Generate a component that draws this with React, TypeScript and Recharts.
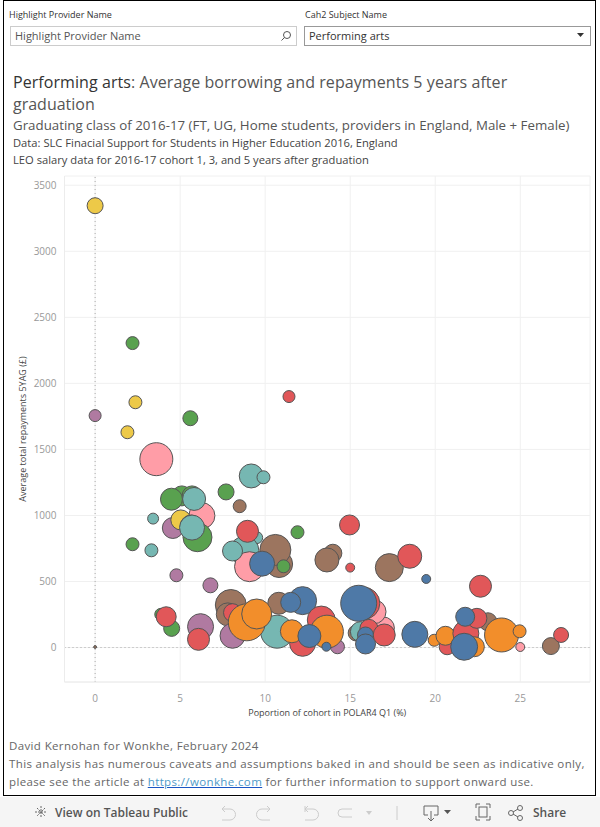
import React from 'react';
import { ScatterChart, Scatter, XAxis, YAxis, ZAxis, CartesianGrid, ReferenceLine, Cell } from 'recharts';

// One entry per provider, drawn in this order
const polarShare = [
  0, 2.2, 2.37, 0, 5.6, 11.4, 1.9, 3.6, 9.18, 9.9,
  7.7, 8.5, 5.1, 5.7, 4.49, 6.28, 3.41, 5.82, 4.57, 5.04,
  6.02, 5.65, 5.7, 2.2, 3.31, 4.78, 6.78, 9.5, 8.78, 9.08,
  8.08, 8.96, 10.82, 10.6, 9.82, 11.08, 11.9, 13.98, 13.63, 14.96,
  15, 17.3, 18.5, 19.47, 22.66, 3.86, 4.5, 4.18, 6.2, 6.08,
  7.98, 7.8, 8.08, 8.08, 10.8, 10.7, 8.92, 9.5, 12.2, 11.5,
  13.3, 12.2, 11.57, 14.1, 14.25, 13.63, 12.6, 13.6, 16.95, 16.4,
  15.8, 15.35, 15.6, 15.5, 16.1, 15.9, 15.9, 17, 18.8, 19.94,
  20.7, 20.6, 21.8, 23.1, 22.45, 21.76, 22.3, 21.7, 23.9, 24.96,
  25, 26.8, 27.4, 0,
];
const repayments = [
  3345, 2305, 1857, 1756, 1736, 1900, 1630, 1426, 1299, 1289,
  1178, 1070, 1148, 1148, 1123, 998, 976, 1125, 905, 966,
  835, 920, 908, 782, 736, 547, 471, 832, 733, 612,
  731, 880, 632, 739, 635, 615, 873, 714, 663, 928,
  605, 605, 691, 519, 464, 251, 145, 233, 158, 62,
  322, 251, 264, 89, 335, 120, 191, 254, 355, 342,
  208, 32, 123, 42, 6, 120, 87, 6, 148, 271,
  335, 110, 120, 335, 145, 95, 27, 95, 100, 55,
  6, 89, 107, 195, 221, 233, 6, 6, 95, 123,
  4, 11, 95, 4,
];
const cohort = [
  64, 42, 42, 36, 56, 36, 42, 272, 144, 42,
  64, 42, 100, 100, 121, 169, 30, 132, 110, 100,
  210, 121, 156, 42, 42, 42, 56, 36, 210, 225,
  100, 121, 182, 240, 156, 42, 42, 81, 144, 100,
  20, 196, 144, 20, 121, 36, 64, 100, 169, 121,
  240, 132, 81, 156, 121, 272, 342, 225, 196, 100,
  196, 169, 132, 36, 49, 272, 132, 20, 121, 144,
  256, 64, 100, 324, 81, 64, 100, 121, 169, 36,
  64, 90, 169, 81, 100, 90, 100, 182, 289, 42,
  20, 72, 56, 2,
];
const groups = [
  'Y', 'G', 'Y', 'P', 'G', 'R', 'Y', 'K', 'T', 'T',
  'G', 'N', 'G', 'G', 'G', 'K', 'T', 'T', 'P', 'Y',
  'G', 'G', 'T', 'G', 'T', 'P', 'P', 'T', 'T', 'K',
  'T', 'R', 'N', 'N', 'B', 'G', 'G', 'N', 'N', 'R',
  'R', 'N', 'R', 'B', 'R', 'G', 'G', 'R', 'P', 'R',
  'N', 'N', 'R', 'P', 'N', 'T', 'O', 'O', 'B', 'B',
  'R', 'R', 'O', 'T', 'P', 'O', 'B', 'B', 'K', 'K',
  'R', 'N', 'T', 'B', 'R', 'B', 'B', 'R', 'B', 'O',
  'R', 'O', 'R', 'N', 'R', 'B', 'O', 'B', 'O', 'O',
  'K', 'N', 'R', 'N',
];
const xTicks = [0, 5, 10, 15, 20, 25];
const yTicks = [0, 500, 1000, 1500, 2000, 2500, 3000, 3500];

const groupColors: Record<string, string> = {
  Y: '#edc948', G: '#59a14f', P: '#b07aa1', R: '#e15759', T: '#76b7b2',
  K: '#ff9da7', N: '#9c755f', B: '#4e79a7', O: '#f28e2b',
};

const chartData = polarShare.map((x, i) => ({ x, y: repayments[i], z: cohort[i], group: groups[i] }));

const FONT = '"Open Sans", sans-serif';

const Txt = ({ x, y, size, color, children, spacing }: any) => (
  <div style={{ position: 'absolute', left: x, top: y, fontSize: size, color, lineHeight: '18px', whiteSpace: 'nowrap', letterSpacing: spacing }}>
    {children}
  </div>
);

const Toolbar = () => (
  <div style={{ position: 'absolute', left: 0, top: 797, width: 600, height: 30, background: '#f5f5f5' }}>
    <svg width="600" height="30" style={{ position: 'absolute', left: 0, top: 0 }} fill="none" stroke="#666" strokeWidth="1">
      <path d="M41 9v12M35 15h12M37 11l8 8M45 11l-8 8" strokeDasharray="2 1" />
      <g stroke="#ccc">
        <path d="M222 12h8a5 5 0 0 1 0 11h-8M222 12l3-3M222 12l3 3" />
        <path d="M270 12h-8a5 5 0 0 0 0 11h8M270 12l-3-3M270 12l-3 3" />
        <path d="M305 12h8a5 5 0 0 1 0 11h-8M305 9v6M305 12l3-3M305 12l3 3" />
        <path d="M352 12h-10a4 4 0 0 0 0 8h10" />
        <path d="M397 9v14" />
      </g>
      <path d="M366 14l3 4 3-4z" fill="#ccc" stroke="none" />
      <path d="M424 9h14v9h-4M428 18h-4v-9M431 14v10M428 21l3 3 3-3" />
      <path d="M444 13h7l-3.500 4z" fill="#555" stroke="none" />
      <path d="M476 11V7h4M486 7h4v4M490 19v4h-4M480 23h-4v-4" />
      <rect x="479" y="10" width="8" height="10" />
      <circle cx="511" cy="16" r="2.500" />
      <circle cx="520" cy="11" r="2.500" />
      <circle cx="520" cy="21" r="2.500" />
      <path d="M513 15l5-3M513 17l5 3" />
    </svg>
    <Txt x={55} y={7} size={12} color="#555"><b style={{ fontWeight: 600 }}>View on Tableau Public</b></Txt>
    <Txt x={533} y={7} size={12} color="#555"><b style={{ fontWeight: 600 }}>Share</b></Txt>
  </div>
);

const App = () => (
  <div style={{ position: 'absolute', left: 0, top: 0, width: 600, height: 827, background: '#fff', fontFamily: FONT, overflow: 'hidden' }}>
    <div style={{ position: 'absolute', left: 3, top: 0, width: 591, height: 794, border: '1px solid #000' }} />

    <Txt x={9} y={6} size={9} color="#333">Highlight Provider Name</Txt>
    <Txt x={305} y={6} size={9} color="#333">Cah2 Subject Name</Txt>
    <div style={{ position: 'absolute', left: 10, top: 26, width: 285, height: 18, border: '1px solid #ccc' }} />
    <Txt x={15} y={27} size={11} color="#555">Highlight Provider Name</Txt>
    <svg width="12" height="12" style={{ position: 'absolute', left: 280, top: 30 }} fill="none" stroke="#555">
      <circle cx="7" cy="5" r="3.500" />
      <path d="M4.500 7.500L1.500 10.500" />
    </svg>
    <div style={{ position: 'absolute', left: 304, top: 26, width: 285, height: 18, border: '1px solid #999' }} />
    <Txt x={309} y={27} size={11} color="#333">Performing arts</Txt>
    <svg width="8" height="6" style={{ position: 'absolute', left: 577, top: 33 }}>
      <path d="M0 0h7l-3.500 4z" fill="#333" />
    </svg>

    <Txt x={13} y={73} size={16} color="#555" spacing={0.07}><span style={{ color: '#333', fontWeight: 500 }}>Performing arts</span>: Average borrowing and repayments 5 years after</Txt>
    <Txt x={13} y={95} size={16} color="#555">graduation</Txt>
    <Txt x={13} y={116} size={13.300} color="#555">Graduating class of 2016-17 (FT, UG, Home students, providers in England, Male + Female)</Txt>
    <Txt x={13} y={134} size={11.200} color="#444">Data: SLC Finacial Support for Students in Higher Education 2016, England</Txt>
    <Txt x={13} y={151} size={11.200} color="#444">LEO salary data for 2016-17 cohort 1, 3, and 5 years after graduation</Txt>

    <div style={{ position: 'absolute', left: 0, top: 170 }}>
      <ScatterChart width={600} height={565} margin={{ top: 6, right: 10, bottom: 0, left: 0 }} data={chartData}>
        <CartesianGrid stroke="#f0f0f0" strokeWidth={1} />
        <XAxis
          type="number"
          dataKey="x"
          domain={[-1.8, 29.1]}
          ticks={xTicks}
          interval={0}
          tickLine={false}
          axisLine={{ stroke: '#ececec' }}
          tick={{ fontSize: 10, fill: '#999' }}
          tickMargin={7}
          height={53}
          label={{ value: 'Poportion of cohort in POLAR4 Q1 (%)', position: 'insideTop', offset: 28, fontSize: 9, fill: '#444', fontWeight: 500 }}
        />
        <YAxis
          type="number"
          dataKey="y"
          domain={[-261, 3570]}
          ticks={yTicks}
          interval={0}
          tickLine={false}
          tickSize={0}
          axisLine={{ stroke: '#ececec' }}
          tick={{ fontSize: 10, fill: '#999' }}
          tickMargin={8}
          width={64.500}
          label={{ value: 'Average total repayments 5YAG (£)', angle: -90, position: 'insideLeft', offset: 23, fontSize: 9, fill: '#444', fontWeight: 500, style: { textAnchor: 'middle' } }}
        />
        <ZAxis type="number" dataKey="z" domain={[0, 400]} range={[0, 400 * Math.PI]} />
        <ReferenceLine x={0} stroke="#aaa" strokeDasharray="1 3" />
        <ReferenceLine y={0} stroke="#aaa" strokeDasharray="1 3" />
        <Scatter data={chartData} isAnimationActive={false} stroke="#555" strokeWidth={1}>
          {chartData.map((d, i) => (
            <Cell key={`cell-${i}`} fill={groupColors[d.group]} stroke="#555" />
          ))}
        </Scatter>
      </ScatterChart>
    </div>

    <Txt x={9} y={737} size={11.500} color="#666" spacing={0.37}>David Kernohan for Wonkhe, February 2024</Txt>
    <Txt x={9} y={755} size={11.500} color="#666" spacing={0.37}>This analysis has numerous caveats and assumptions baked in and should be seen as indicative only,</Txt>
    <Txt x={9} y={773} size={11.500} color="#666" spacing={0.37}>please see the article at <span style={{ color: '#4e9ac7', textDecoration: 'underline', textDecorationColor: '#1a56c4' }}>https://wonkhe.com</span> for further information to support onward use.</Txt>

    <Toolbar />
  </div>
);

export default App;
